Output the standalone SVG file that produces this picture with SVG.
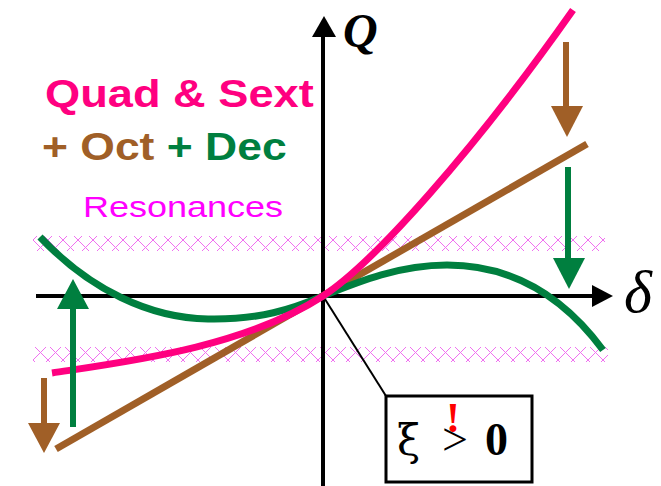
<svg xmlns="http://www.w3.org/2000/svg" width="661" height="486" viewBox="0 0 661 486">
<style>
.ax{stroke:#000;stroke-width:4;fill:none}
.crv{fill:none;stroke-width:7;stroke-linecap:butt}
.shaft{stroke-width:6;fill:none}
.lbl{font-family:"Liberation Sans",Arial,sans-serif;font-weight:bold;font-size:38px}
.ser{font-family:"Liberation Serif","Times New Roman",serif}
</style>
<defs>
<pattern id="hatch" patternUnits="userSpaceOnUse" x="33" y="0" width="30" height="15">
<path d="M0,0 L15,15 L30,0 M0,15 L15,0 L30,15" stroke="#f070f0" stroke-width="1" fill="none"/>
</pattern>
</defs>
<g id="resonances">
<rect x="33" y="236" width="572" height="15" fill="url(#hatch)"/>
<rect x="33" y="347" width="575" height="15" fill="url(#hatch)"/>
</g>
<g id="axes">
<line class="ax" x1="323" y1="486" x2="323" y2="34"/>
<polygon points="312,37 324,16 336,37" fill="#000"/>
<line class="ax" x1="36" y1="296" x2="594" y2="296"/>
<polygon points="592,285 613,296 592,307" fill="#000"/>
<text class="ser" x="343" y="47" font-size="48" font-weight="bold" font-style="italic">Q</text>
<text class="ser" x="624" y="312" font-size="60" font-style="italic">δ</text>
</g>
<g id="connectors">
<line x1="323" y1="296" x2="386" y2="396" stroke="#000" stroke-width="2"/>
</g>
<g id="curves">
<line id="oct" class="crv" x1="56" y1="449" x2="587" y2="144" stroke="#a05f27" stroke-width="6"/>
<path id="dec" class="crv" stroke="#007f3f" d="M40,237 C90,290 150,318 208,319 C260,320 292,309 323,296 C360,281 400,265 447,265 C500,265 555,285 603,350"/>
<path id="quadsext" class="crv" stroke="#ff0080" d="M52,373 C125,362 243,348 323,296 C373,263.5 473,152 573,10"/>
</g>
<g id="arrows">
<line class="shaft" x1="566" y1="42" x2="566" y2="108" stroke="#a05f27"/>
<polygon points="551,106 583,106 567,137" fill="#a05f27"/>
<line class="shaft" x1="568" y1="167" x2="568" y2="260" stroke="#007f3f"/>
<polygon points="553,258 585,258 569,289" fill="#007f3f"/>
<line class="shaft" x1="44" y1="378" x2="44" y2="425" stroke="#a05f27"/>
<polygon points="28,423 60,423 44,453" fill="#a05f27"/>
<line class="shaft" x1="73" y1="427" x2="73" y2="306" stroke="#007f3f"/>
<polygon points="57,309 89,309 73,279" fill="#007f3f"/>
</g>
<g id="labels">
<text class="lbl" transform="translate(45,107) scale(1.19,1)" fill="#ff0080">Quad &amp; Sext</text>
<text class="lbl" transform="translate(42,160) scale(1.17,1)"><tspan fill="#a05f27">+ Oct </tspan><tspan fill="#007f3f">+ Dec</tspan></text>
<text transform="translate(83,217) scale(1.2,1)" font-family="Liberation Sans,Arial,sans-serif" font-size="30" fill="#ff00ff">Resonances</text>
</g>
<g id="condition">
<rect x="386" y="396" width="146" height="86" fill="#fff" stroke="#000" stroke-width="3"/>
<text class="ser" y="455" font-size="46"><tspan x="397" font-family="DejaVu Serif,serif" font-size="42">ξ</tspan><tspan x="442">&gt;</tspan><tspan x="485" font-weight="bold">0</tspan></text>
<text class="ser" x="453" y="432" font-size="42" font-weight="bold" fill="#ff0000" text-anchor="middle">!</text>
</g>
</svg>
